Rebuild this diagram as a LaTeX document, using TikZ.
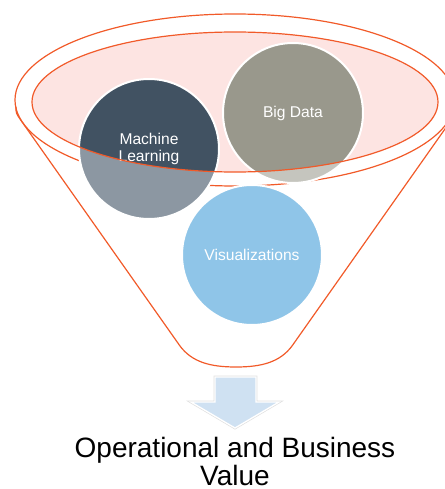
\documentclass[tikz,border=0pt]{standalone}
\usepackage{fontspec}
\setmainfont{Liberation Sans}
\definecolor{funnelred}{HTML}{F15A29}
\definecolor{rimpink}{HTML}{FDE4E2}
\definecolor{mldark}{HTML}{415262}
\definecolor{mllight}{HTML}{8C97A2}
\definecolor{bddark}{HTML}{99988C}
\definecolor{bdlight}{HTML}{C5C5BE}
\definecolor{visblue}{HTML}{8FC5E8}
\definecolor{arrowblue}{HTML}{CFE1F2}
\begin{document}
\begin{tikzpicture}[x=0.75pt,y=-0.75pt,
  rim/.style={draw=funnelred, line width=0.9pt},
  ball/.style={circle, draw=white, line width=1.5pt, minimum size=105pt, inner sep=0pt,
    text=white, align=center, font=\fontsize{11.7}{13}\selectfont}]
\useasboundingbox (0,0) rectangle (445,489);
\clip (0,0) rectangle (445,489);
% funnel body
\draw[rim] (235,100) ellipse [x radius=220, y radius=86];
\draw[rim] (16,107) .. controls (16,113) .. (20,119) -- (180,346)
  .. controls (192,362) and (210,367) .. (236,367)
  .. controls (262,367) and (280,362) .. (292,346) -- (452,119) .. controls (456,113) .. (455,107);
% rim of the funnel
\fill[rimpink] (235,102) ellipse [x radius=203, y radius=70];
% balls, lighter where they leave the rim
\fill[mllight] (149,149) circle [radius=70];
\fill[bdlight] (293,113) circle [radius=70];
\fill[visblue] (252,255) circle [radius=70];
\begin{scope}
\clip (235,102) ellipse [x radius=203, y radius=70];
\fill[mldark] (149,149) circle [radius=70];
\fill[bddark] (293,113) circle [radius=70];
\end{scope}
\node[ball] (ml) at (149,149) {Machine\\Learning};
\node[ball] (bd) at (293,113) {Big Data};
\node[ball] (vis) at (252,255) {Visualizations};
\draw[rim] (235,102) ellipse [x radius=203, y radius=70];
% arrow out of the funnel
\draw[gray!25, line width=2pt, line join=miter] (215,377) -- (256,377) -- (256,402) -- (279,402) -- (235,428) -- (191,402) -- (215,402) -- cycle;
\filldraw[draw=white, fill=arrowblue, line width=1pt] (215,377) -- (256,377) -- (256,402) -- (279,402) -- (235,428) -- (191,402) -- (215,402) -- cycle;
\node[align=center, font=\fontsize{21}{21}\selectfont] (value) at (235,461) {Operational and Business\\Value};
\end{tikzpicture}
\end{document}
